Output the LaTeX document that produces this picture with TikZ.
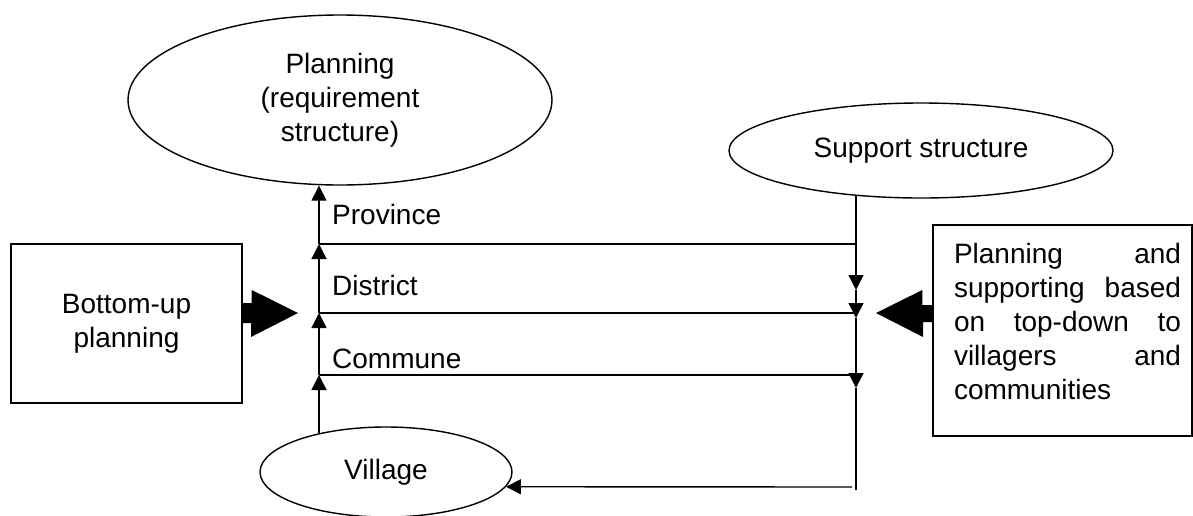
\documentclass[tikz,border=0pt]{standalone}
\usepackage{fontspec}
\setmainfont{Liberation Sans}
\usetikzlibrary{arrows.meta,shapes.geometric}
\begin{document}
\begin{tikzpicture}[x=1pt,y=-1pt,
  every node/.style={font=\fontsize{28}{34}\selectfont, inner sep=0pt},
  oval/.style={ellipse, draw, line width=1.4pt},
  box/.style={rectangle, draw, line width=1.4pt},
  ln/.style={line width=1.4pt},
  arr/.style={line width=1.4pt, -{Triangle[length=15pt,width=15pt]}},
  bigarrow/.style={fill=black}]
\useasboundingbox (0,0) rectangle (1193,515);
% nodes
\node[oval, minimum width=424pt, minimum height=170pt, align=center] (planning) at (340,100) {Planning\\(requirement\\structure)};
\node[oval, minimum width=384pt, minimum height=95pt] (support) at (921,150.5) {Support structure};
\node[oval, minimum width=252pt, minimum height=90pt] (village) at (386,472) {Village};
\node[box, minimum width=231pt, minimum height=159pt, align=center] (lbox) at (126.5,323.5) {Bottom-up\\planning};
\node[box, minimum width=259pt, minimum height=211pt] (rbox) at (1062.5,330.5) {};
\node[text width=227pt, align=left] (rtext) at (1067.5,321) {Planning\hfill and\\supporting\hfill based\\on\hfill top-down\hfill to\\villagers\hfill and\\communities};
\node[anchor=base west] (prov) at (332,224) {Province};
\node[anchor=base west] (dist) at (332,295) {District};
\node[anchor=base west] (comm) at (332,368) {Commune};
% coordinates
\coordinate (pL) at (319,244);
\coordinate (dL) at (319,313);
\coordinate (cL) at (319,375);
\coordinate (pR) at (856,244);
\coordinate (dR) at (856,313);
\coordinate (cR) at (856,375);
\coordinate (m1) at (856,290);
\coordinate (m2) at (856,318);
\coordinate (m3) at (856,388);
\coordinate (bR) at (856,490);
\coordinate (bS) at (852,487);
\coordinate (ltip) at (298,313);
\coordinate (rtip) at (876,313);
% level lines
\draw[ln] (pL) -- (pR);
\draw[ln] (dL) -- (dR);
\draw[ln] (cL) -- (cR);
% bottom-up chain
\draw[arr] (cL |- village.150) -- (cL);
\draw[arr] (cL) -- (dL);
\draw[arr] (dL) -- (pL);
\draw[arr] (pL) -- (pL |- planning.south);
% top-down chain
\draw[ln] (pR |- support.214.5) -- (pR);
\draw[arr] (pR) -- (m1);
\draw[arr] (m1) -- (m2);
\draw[arr] (m2) -- (m3);
\draw[ln] (m3) -- (bR);
\draw[arr] (bS) -- (village.-7.2);
% big arrows
\fill[bigarrow] (lbox.east |- ltip) ++(0,-10) -- ++(9,0) -- ++(0,-13) -- (ltip) -- ++(-47,24) -- ++(0,-14) -- ++(-9,0) -- cycle;
\fill[bigarrow] (rbox.west |- rtip) ++(0,-8) -- ++(-10,0) -- ++(0,-15) -- (rtip) -- ++(47,24) -- ++(0,-15) -- ++(10,0) -- cycle;
\end{tikzpicture}
\end{document}
